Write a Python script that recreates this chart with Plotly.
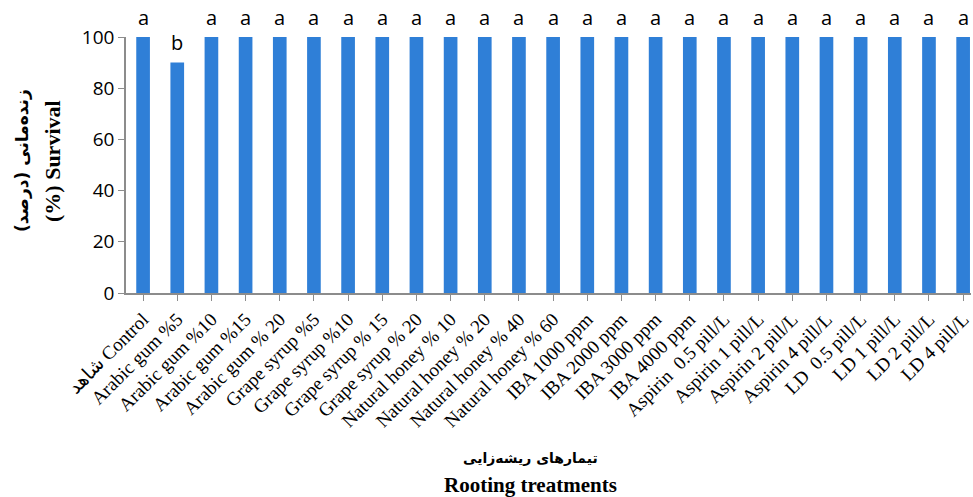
import plotly.graph_objects as go

# Rooting treatments (x categories)
treatments = [
    "شاهد Control", "Arabic gum %5", "Arabic gum %10", "Arabic gum %15",
    "Arabic gum % 20", "Grape syrup %5", "Grape syrup %10", "Grape syrup % 15",
    "Grape syrup % 20", "Natural honey % 10", "Natural honey % 20",
    "Natural honey % 40", "Natural honey % 60", "IBA 1000 ppm", "IBA 2000 ppm",
    "IBA 3000 ppm", "IBA 4000 ppm", "Aspirin  0.5 pill/L", "Aspirin 1 pill/L",
    "Aspirin 2 pill/L", "Aspirin 4 pill/L", "LD  0.5 pill/L", "LD 1 pill/L",
    "LD 2 pill/L", "LD 4 pill/L",
]

# Survival (%)
survival = [100, 90, 100, 100, 100, 100, 100, 100, 100, 100, 100, 100, 100,
            100, 100, 100, 100, 100, 100, 100, 100, 100, 100, 100, 100]

# Mean-separation letters
letters = ["a", "b", "a", "a", "a", "a", "a", "a", "a", "a", "a", "a", "a",
           "a", "a", "a", "a", "a", "a", "a", "a", "a", "a", "a", "a"]

y_ticks = [0, 20, 40, 60, 80, 100]

BAR = "#2F7FD7"
AXIS = "#8C8C8C"
SERIF = "Liberation Serif, Times New Roman, serif"
SANS = "Open Sans, Liberation Sans, sans-serif"

x_idx = list(range(len(treatments)))
X_RANGE = [-0.5, 24.23]

fig = go.Figure()
fig.add_trace(go.Bar(
    x=x_idx, y=survival, marker=dict(color=BAR, line=dict(width=0)),
    hoverinfo="skip",
))

annotations = []
for i, (v, t) in enumerate(zip(survival, letters)):
    annotations.append(dict(
        x=i, y=v, xref="x", yref="y", text=t, showarrow=False,
        yanchor="middle", yshift=20, font=dict(family=SANS, size=20, color="#000"),
    ))

# y-axis title (two lines)
annotations.append(dict(
    x=0, y=0.5, xref="paper", yref="paper", text="<b>زنده‌مانی (درصد)\u200f</b>",
    textangle=-90, showarrow=False, xanchor="center", yanchor="middle",
    xshift=-104, yshift=4, font=dict(family="DejaVu Sans, sans-serif", size=17, color="#000"),
))
annotations.append(dict(
    x=0, y=0.5, xref="paper", yref="paper", text="<b>(%) Survival</b>",
    textangle=-90, showarrow=False, xanchor="center", yanchor="middle",
    xshift=-74, yshift=4, font=dict(family=SERIF, size=22, color="#000"),
))

# x-axis title (two lines)
title_x = (531 - 126) / 847
annotations.append(dict(
    x=title_x, y=0, xref="paper", yref="paper",
    text="<b>تیمارهای ریشه‌زایی</b>", showarrow=False,
    xanchor="center", yanchor="middle", yshift=-(458 - 293),
    font=dict(family="DejaVu Sans, sans-serif", size=14, color="#000"),
))
annotations.append(dict(
    x=title_x, y=0, xref="paper", yref="paper",
    text="<b>Rooting treatments</b>", showarrow=False,
    xanchor="center", yanchor="middle", yshift=-(485 - 293),
    font=dict(family=SERIF, size=21, color="#000"),
))

fig.update_layout(
    width=973, height=497,
    margin=dict(l=126, r=0, t=37, b=204, pad=0),
    paper_bgcolor="white", plot_bgcolor="white",
    bargap=0.6, showlegend=False,
    annotations=annotations,
    xaxis=dict(
        range=X_RANGE, tickmode="array", tickvals=x_idx, ticktext=treatments,
        tickangle=-45, tickson="boundaries", ticks="outside", ticklen=6,
        tickcolor=AXIS, showline=True, linecolor=AXIS, linewidth=1.5,
        showgrid=False, zeroline=False, ticklabeloverflow="allow",
        tickfont=dict(family=SERIF, size=19, color="#000"),
    ),
    yaxis=dict(
        range=[0, 100], tickmode="array", tickvals=y_ticks,
        ticks="outside", ticklen=6, tickcolor=AXIS, showline=True,
        linecolor=AXIS, linewidth=1.5, showgrid=False, zeroline=False,
        tickfont=dict(family=SANS, size=19, color="#000"),
    ),
)

fig.write_html("out.html")
